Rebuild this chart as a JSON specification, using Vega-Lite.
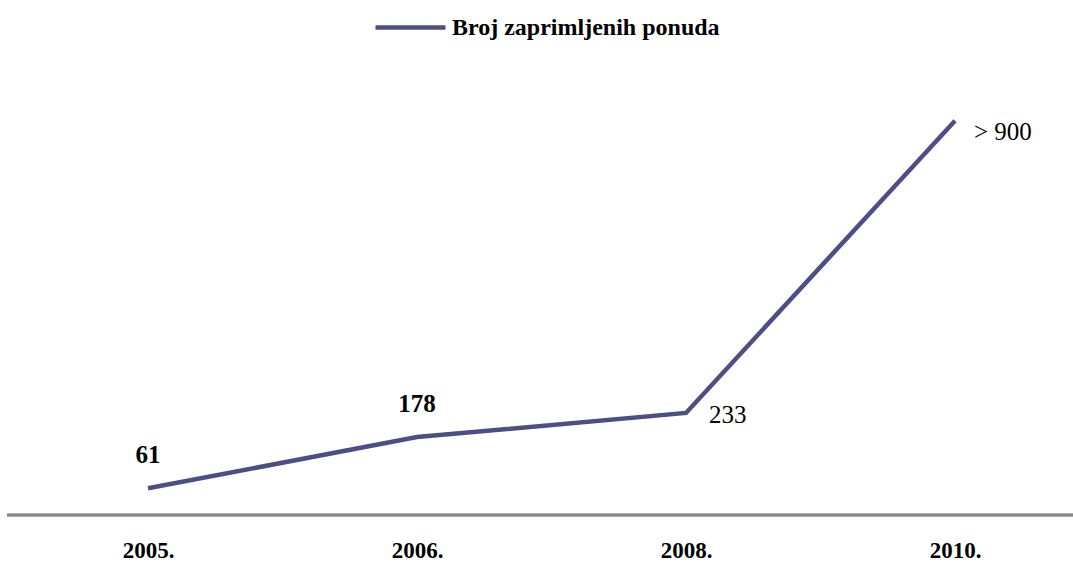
{
  "$schema": "https://vega.github.io/schema/vega-lite/v6.json",
  "autosize": "none",
  "width": 1066,
  "height": 438,
  "padding": {"left": 7, "top": 77, "right": 0, "bottom": 50},
  "background": "white",
  "config": {"view": {"stroke": null}, "font": "Liberation Serif"},
  "data": {"values": [
    {"year": "2005.", "value": 61, "label": "61", "series": "Broj zaprimljenih ponuda"},
    {"year": "2006.", "value": 178, "label": "178", "series": "Broj zaprimljenih ponuda"},
    {"year": "2008.", "value": 233, "label": "233", "series": "Broj zaprimljenih ponuda"},
    {"year": "2010.", "value": 900, "label": "> 900", "series": "Broj zaprimljenih ponuda"}
  ]},
  "encoding": {
    "x": {"field": "year", "type": "ordinal", "scale": {"type": "point", "range": [141, 948], "padding": 0},
      "axis": {"title": null, "domain": false, "ticks": false, "labelAngle": 0, "labelFont": "Liberation Serif", "labelFontSize": 23, "labelFontWeight": "bold", "labelColor": "#000", "labelPadding": 24}},
    "y": {"field": "value", "type": "quantitative", "scale": {"domain": [0, 1000], "nice": false}, "axis": null}
  },
  "layer": [
    {"mark": {"type": "rule", "color": "#888888", "strokeWidth": 2.5}, "encoding": {"x": null, "y": {"datum": 0, "type": "quantitative"}}},
    {"mark": {"type": "line", "strokeWidth": 4.5},
      "encoding": {"color": {"field": "series", "type": "nominal", "scale": {"range": ["#4E4E87"]},
        "legend": {"title": null, "orient": "none", "legendX": 366, "legendY": -87, "symbolType": "stroke", "symbolSize": 4900, "symbolStrokeWidth": 4.5, "labelFont": "Liberation Serif", "labelFontSize": 24, "labelFontWeight": "bold", "labelColor": "#000", "labelOffset": 4, "labelLimit": 500}}}},
    {"transform": [{"filter": "datum.year == '2005.' || datum.year == '2006.'"}],
      "mark": {"type": "text", "fontSize": 25, "fontWeight": "bold", "color": "#000", "dy": -33, "baseline": "middle"},
      "encoding": {"text": {"field": "label"}}},
    {"transform": [{"filter": "datum.year == '2008.'"}],
      "mark": {"type": "text", "fontSize": 25, "color": "#000", "align": "left", "dx": 23, "dy": 2, "baseline": "middle"},
      "encoding": {"text": {"field": "label"}}},
    {"transform": [{"filter": "datum.year == '2010.'"}],
      "mark": {"type": "text", "fontSize": 25, "color": "#000", "align": "left", "dx": 19, "dy": 11, "baseline": "middle"},
      "encoding": {"text": {"field": "label"}}}
  ]
}
